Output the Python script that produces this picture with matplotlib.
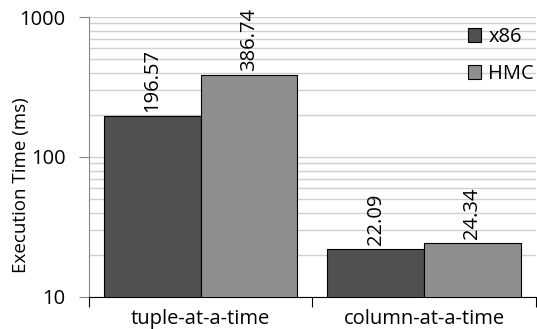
import numpy as np
import matplotlib.pyplot as plt
from matplotlib.ticker import LogLocator, NullFormatter, FixedLocator

categories = ['tuple-at-a-time', 'column-at-a-time']
series = ['x86', 'HMC']
x86_vals = [196.57, 22.09]
hmc_vals = [386.74, 24.34]
colors = ['#505050', '#8e8e8e']

plt.rcParams['font.family'] = ['Open Sans', 'DejaVu Sans']

fig = plt.figure(figsize=(5.37, 3.29), dpi=100)
ax = fig.add_axes([0.1657, 0.0973, 0.832, 0.851])

x = np.arange(len(categories))
w = 0.433
for i, (vals, c, name) in enumerate(zip([x86_vals, hmc_vals], colors, series)):
    pos = x + (i - 0.5) * w
    ax.bar(pos, vals, width=w, color=c, edgecolor='black', linewidth=0.8,
           label=name, zorder=3)
    for p, v in zip(pos, vals):
        ax.annotate(f'{v:.2f}', (p, v), xytext=(0, 3), textcoords='offset points',
                    rotation=90, ha='center', va='bottom', fontsize=14.5, zorder=4)

ax.set_yscale('log')
ax.set_ylim(10, 1000)
ax.set_xlim(-0.5, 1.5)
ax.yaxis.set_major_locator(FixedLocator([10, 100, 1000]))
ax.yaxis.set_major_formatter(plt.FuncFormatter(lambda v, p: f'{int(v)}'))
ax.yaxis.set_minor_locator(LogLocator(base=10, subs=np.arange(2, 10)))
ax.yaxis.set_minor_formatter(NullFormatter())
ax.grid(True, which='both', axis='y', color='#d0d0d0', linewidth=1, zorder=0)
ax.tick_params(axis='y', which='major', length=7, color='#888888',
               labelsize=14.5, pad=10)
ax.tick_params(axis='y', which='minor', length=0)

ax.set_xticks([-0.5, 0.5, 1.5])
ax.set_xticklabels([])
ax.set_xticks(x, minor=True)
ax.set_xticklabels(categories, minor=True, fontsize=14.5)
ax.tick_params(axis='x', which='major', length=7, color='black')
ax.tick_params(axis='x', which='minor', length=0, pad=9)

for s in ['top', 'right']:
    ax.spines[s].set_visible(False)
ax.spines['left'].set_color('#888888')
ax.spines['bottom'].set_color('black')

ax.set_ylabel('Execution Time (ms)', fontsize=13.5)
ax.yaxis.set_label_coords(-0.132, 0.4)

ax.legend(loc='upper left', bbox_to_anchor=(460 / 537, 1 - 19 / 329),
          bbox_transform=fig.transFigure, borderaxespad=0, frameon=False,
          fontsize=14.5, handlelength=0.65, handleheight=0.65, handletextpad=0.35,
          labelspacing=0.85)

fig.savefig('out.png', dpi=100)
